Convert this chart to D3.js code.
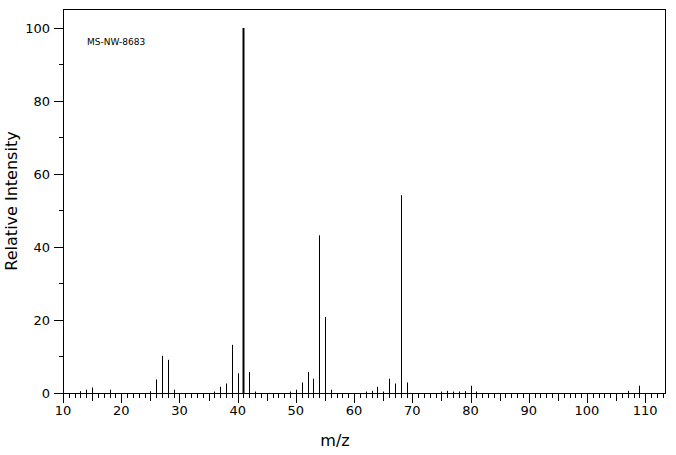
<!DOCTYPE html><html><head><script src="https://cdn.jsdelivr.net/npm/d3@7"></script>
<style>body{margin:0;background:#fff}text{font-family:"DejaVu Sans",sans-serif;fill:#000}</style></head><body><svg id="c" width="676" height="455"></svg><script>
const mz =        [13,14,15,18,25,26,27,28,29,36,37,38,39,40,41,42,43,49,50,51,52,53,54,55,56,62,63,64,65,66,67,68,69,75,76,77,78,79,80,81,107,109];
const intensity = [0.5,0.9,1.5,0.9,0.5,3.7,10.2,9.1,0.9,0.4,1.7,2.6,13.2,5.4,100,5.8,0.4,0.4,0.9,2.9,5.8,3.9,43.2,20.8,0.9,0.4,0.6,1.7,0.4,3.9,2.6,54.2,2.9,0.4,0.6,0.4,0.4,0.5,2.0,0.4,0.6,2.0];
const yTicks = [0,20,40,60,80,100];
const xTicks = [10,20,30,40,50,60,70,80,90,100,110];
const svg=d3.select("#c");
const L=63,R=665,T=9,B=393;
const x=d3.scaleLinear().domain([10,113.4]).range([L,R]);
const y=d3.scaleLinear().domain([0,105.2]).range([B,T]);
const g=svg.append("g");
g.append("rect").attr("x",L+.5).attr("y",T+.5).attr("width",R-L).attr("height",B-T).attr("fill","none").attr("stroke","#000");
// y ticks
d3.range(0,101,10).forEach(v=>{const yy=Math.round(y(v))+.5;g.append("line").attr("x1",L-(v%20?4:9)).attr("x2",L).attr("y1",yy).attr("y2",yy).attr("stroke","#000");});
yTicks.forEach(v=>g.append("text").attr("x",L-13).attr("y",y(v)+5).attr("text-anchor","end").attr("font-size",13).text(v));
// x ticks
d3.range(10,114).forEach(v=>{const xx=Math.round(x(v))+.5;const len=v%10?(v%5?5:8):10;g.append("line").attr("x1",xx).attr("x2",xx).attr("y1",B).attr("y2",B+len).attr("stroke","#000");});
xTicks.forEach(v=>g.append("text").attr("x",x(v)).attr("y",B+22).attr("text-anchor","middle").attr("font-size",13).text(v));
// bars
mz.forEach((m,i)=>{const xx=Math.round(x(m))+.5;g.append("line").attr("x1",xx).attr("x2",xx).attr("y1",B).attr("y2",y(intensity[i])).attr("stroke","#000").attr("stroke-width",intensity[i]>=99?2:1);});
g.append("text").attr("x",87).attr("y",45).attr("font-size",9).text("MS-NW-8683");
g.append("text").attr("x",335).attr("y",446).attr("text-anchor","middle").attr("font-size",16).text("m/z");
g.append("text").attr("transform","translate(17,201) rotate(-90)").attr("text-anchor","middle").attr("font-size",16).text("Relative Intensity");
</script></body></html>
